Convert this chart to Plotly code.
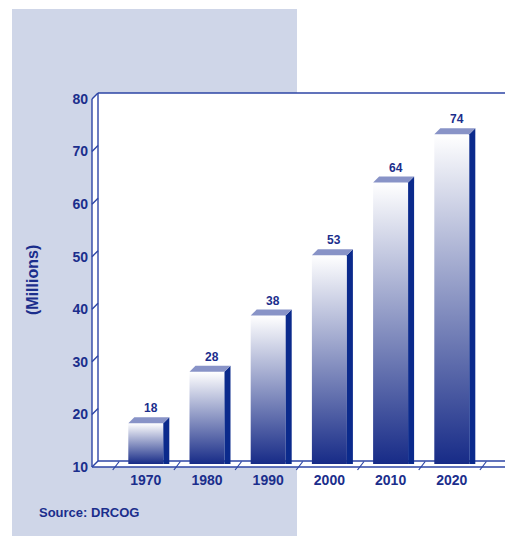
import plotly.graph_objects as go

# ---------------- data ----------------
years = ["1970", "1980", "1990", "2000", "2010", "2020"]
value_labels = [18, 28, 38, 53, 64, 74]          # printed values (millions)
bar_heights = [18.3, 28.1, 38.8, 50.3, 64.1, 73.3]  # heights as drawn in the picture
y_ticks = [10, 20, 30, 40, 50, 60, 70, 80]

# ---------------- styling / geometry ----------------
NAVY = "#1B2E8C"
SIDE = "#0B2A8C"
TOPF = "#8893C7"
LINE = "#2D45A5"
PANEL = "#CFD6E8"
FONT = "Liberation Sans"

W, H = 505, 536
ML, MR, MT, MB = 70, 0, 60, 46
PW, PH = W - ML - MR, H - MT - MB

# pixel <-> data mapping used to set the axis ranges
X0PX, XSTEP = 145.8, 61.2
Y10PX, YUNIT = 467.0, 5.257


def xd(p):
    return (p - X0PX) / XSTEP


def yd(p):
    return 10 + (Y10PX - p) / YUNIT


DX = 6 / XSTEP      # depth offset in x units
DY = 6 / YUNIT      # depth offset in y units
HW = 17.5 / XSTEP   # half width of bar front face
BASE = yd(464)

XL = xd(92)
XR = xd(506)
YMIN, YMAX = y_ticks[0], y_ticks[-1]

fig = go.Figure()

# white walls / floor region
fig.add_trace(go.Scatter(
    x=[XL, XL + DX, XR, XR, XL, XL],
    y=[YMAX, YMAX + DY, YMAX + DY, YMIN, YMIN, YMAX],
    fill="toself", fillcolor="white", mode="none",
    hoverinfo="skip", showlegend=False))

# wall outlines
lx, ly = [], []
lx += [XL, XL, None]; ly += [YMIN, YMAX, None]
lx += [XL + DX, XL + DX, None]; ly += [YMIN + DY, YMAX + DY, None]
lx += [XL + DX, XR, None]; ly += [YMAX + DY, YMAX + DY, None]
lx += [XL, XR, None]; ly += [YMIN, YMIN, None]
lx += [XL + DX, XR, None]; ly += [YMIN + DY, YMIN + DY, None]
for t in y_ticks:
    lx += [XL, XL + DX, None]; ly += [t, t + DY, None]
fig.add_trace(go.Scatter(x=lx, y=ly, mode="lines",
                         line=dict(color=LINE, width=1.4),
                         hoverinfo="skip", showlegend=False))

# floor category separators
sx, sy = [], []
for i in range(len(years) + 1):
    b = i - 0.5
    sx += [b - 2.5 / XSTEP, b + 4 / XSTEP, None]
    sy += [yd(470), yd(461.5), None]
fig.add_trace(go.Scatter(x=sx, y=sy, mode="lines",
                         line=dict(color=LINE, width=1.2),
                         hoverinfo="skip", showlegend=False))

# bars (front face with gradient, side, top)
for i, h in enumerate(bar_heights):
    c = i
    fig.add_trace(go.Scatter(
        x=[c - HW, c + HW, c + HW, c - HW, c - HW],
        y=[BASE, BASE, h, h, BASE],
        fill="toself", mode="none",
        fillgradient=dict(type="vertical",
                          colorscale=[[0, "#172B87"], [1, "#FFFFFF"]]),
        hoverinfo="skip", showlegend=False))
    fig.add_trace(go.Scatter(
        x=[c + HW, c + HW, c + HW + DX, c + HW + DX, c + HW],
        y=[BASE, h, h + DY, BASE, BASE],
        fill="toself", fillcolor=SIDE, mode="none",
        hoverinfo="skip", showlegend=False))
    fig.add_trace(go.Scatter(
        x=[c - HW, c + HW, c + HW + DX, c - HW + DX, c - HW],
        y=[h, h, h + DY, h + DY, h],
        fill="toself", fillcolor=TOPF, mode="none",
        hoverinfo="skip", showlegend=False))
    fig.add_annotation(x=c + 5 / XSTEP, y=h, yshift=15, text=str(value_labels[i]),
                       showarrow=False, xanchor="center", yanchor="middle",
                       font=dict(family=FONT, size=12, color=NAVY, weight="bold"))

# axis title and source
fig.add_annotation(xref="paper", yref="paper",
                   x=(32 - ML) / PW, y=(MT + PH - 280) / PH,
                   text="(Millions)", textangle=-90, showarrow=False,
                   xanchor="center", yanchor="middle",
                   font=dict(family=FONT, size=16, color=NAVY, weight="bold"))
fig.add_annotation(xref="paper", yref="paper",
                   x=(37 - ML) / PW, y=(MT + PH - 512) / PH,
                   text="Source: DRCOG", showarrow=False,
                   xanchor="left", yanchor="middle",
                   font=dict(family=FONT, size=13, color=NAVY, weight="bold"))

# background panel
fig.add_shape(type="rect", xref="paper", yref="paper", layer="below",
              x0=(12 - ML) / PW, x1=(297 - ML) / PW,
              y0=(MT + PH - 540) / PH, y1=(MT + PH - 9) / PH,
              fillcolor=PANEL, line=dict(width=0))

fig.update_layout(
    width=W, height=H,
    margin=dict(l=ML, r=MR, t=MT, b=MB, pad=0),
    paper_bgcolor="white", plot_bgcolor="rgba(0,0,0,0)",
    showlegend=False,
    xaxis=dict(range=[xd(ML), xd(W)], tickvals=list(range(len(years))),
               ticktext=years, showgrid=False, zeroline=False, showline=False,
               ticks="", anchor="free", position=(MT + PH - 467) / PH,
               ticklabelstandoff=3,
               tickfont=dict(family=FONT, size=14, color=NAVY, weight="bold")),
    yaxis=dict(range=[yd(MT + PH), yd(MT)], tickvals=y_ticks,
               showgrid=False, zeroline=False, showline=False,
               ticks="", anchor="free", position=(92 - ML) / PW,
               ticklabelstandoff=4,
               tickfont=dict(family=FONT, size=14, color=NAVY, weight="bold")),
)

fig.write_html("out.html", config={"displayModeBar": False})
